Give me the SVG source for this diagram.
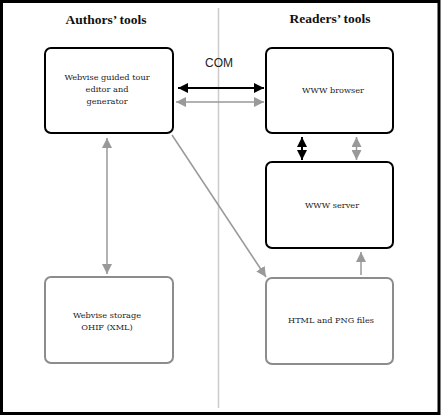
<svg xmlns="http://www.w3.org/2000/svg" width="441" height="416" viewBox="0 0 441 416">
<defs>
<marker id="ab" viewBox="0 0 10 10" refX="10" refY="5" markerWidth="10" markerHeight="10" markerUnits="userSpaceOnUse" orient="auto-start-reverse"><path d="M0,0 L10,5 L0,10 z" fill="#000"/></marker>
<marker id="ag" viewBox="0 0 10 10" refX="10" refY="5" markerWidth="10" markerHeight="10" markerUnits="userSpaceOnUse" orient="auto-start-reverse"><path d="M0,0 L10,5 L0,10 z" fill="#999"/></marker>
</defs>
<style>
.bk{fill:#fff;stroke:#000;stroke-width:2}
.gy{fill:#fff;stroke:#8c8c8c;stroke-width:2}
.t{font-family:"DejaVu Serif","Liberation Serif",serif;font-size:8.2px;fill:#222;text-anchor:middle}
.h{font-family:"Liberation Serif",serif;font-size:13.5px;font-weight:bold;fill:#111;text-anchor:middle}
.cb{stroke:#000;stroke-width:2;fill:none}
.cg{stroke:#999;stroke-width:1.5;fill:none}
</style>
<rect x="0" y="0" width="441" height="416" fill="#fff"/>
<rect x="1.5" y="1.5" width="437.5" height="412" fill="none" stroke="#000" stroke-width="3"/>
<line x1="218.5" y1="8" x2="218.5" y2="408" stroke="#ccc" stroke-width="1.5"/>
<text class="h" x="106" y="24">Authors’ tools</text>
<text class="h" x="330" y="23">Readers’ tools</text>
<text x="219" y="67" font-family="Liberation Sans,sans-serif" font-size="12" text-anchor="middle" fill="#222">COM</text>
<g id="connectors">
<line class="cb" x1="178" y1="88" x2="264" y2="88" marker-start="url(#ab)" marker-end="url(#ab)"/>
<line class="cg" x1="176" y1="102" x2="264" y2="102" marker-start="url(#ag)" marker-end="url(#ag)"/>
<line class="cb" x1="302" y1="137" x2="302" y2="160" marker-start="url(#ab)" marker-end="url(#ab)"/>
<line class="cg" x1="356.5" y1="137" x2="356.5" y2="160" marker-start="url(#ag)" marker-end="url(#ag)"/>
<line class="cg" x1="107" y1="138" x2="107" y2="274" marker-start="url(#ag)" marker-end="url(#ag)"/>
<line class="cg" x1="172" y1="135" x2="266" y2="277" marker-end="url(#ag)"/>
<line class="cg" x1="361" y1="275" x2="361" y2="252" marker-end="url(#ag)"/>
</g>
<g id="editor"><rect class="bk" x="45" y="48" width="128" height="85" rx="6"/>
<text class="t" x="107" y="80">Webvise guided tour</text><text class="t" x="107" y="92">editor and</text><text class="t" x="107" y="104">generator</text></g>
<g id="browser"><rect class="bk" x="266" y="48" width="127" height="85" rx="6"/>
<text class="t" x="333" y="93">WWW browser</text></g>
<g id="server"><rect class="bk" x="266" y="162" width="127" height="86" rx="6"/>
<text class="t" x="332" y="208">WWW server</text></g>
<g id="storage"><rect class="gy" x="45" y="277" width="128" height="86" rx="6"/>
<text class="t" x="107" y="318">Webvise storage</text><text class="t" x="107" y="330">OHIF (XML)</text></g>
<g id="files"><rect class="gy" x="266" y="278" width="127" height="86" rx="6"/>
<text class="t" x="331" y="323">HTML and PNG files</text></g>
</svg>
